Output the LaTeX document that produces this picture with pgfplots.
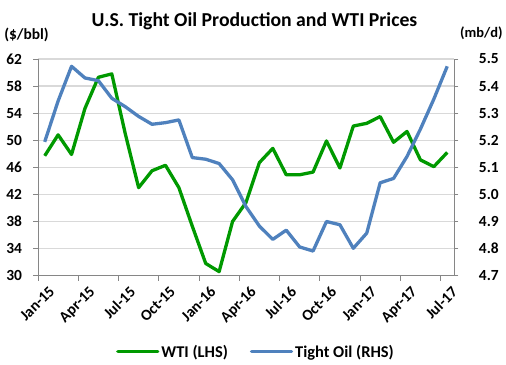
\documentclass[border=0pt]{standalone}
\usepackage{fontspec}
\setmainfont{Carlito}
\usepackage{pgfplots}
\pgfplotsset{compat=1.18}
\definecolor{wti}{RGB}{0,153,0}
\definecolor{tob}{RGB}{79,129,189}
\definecolor{gridc}{RGB}{217,217,217}
\definecolor{axc}{RGB}{134,134,134}
\begin{document}
\begin{tikzpicture}
\pgfplotsset{
  base/.style={
    scale only axis, width=416bp, height=216.7bp,
    at={(0bp,0bp)}, anchor=south west,
    xmin=-0.5, xmax=30.5,
    /pgf/number format/assume math mode=true,
    tick label style={font=\fontsize{15.5}{17}\selectfont\bfseries},
    axis line style={axc, line width=0.9bp},
    tick style={axc, line width=0.9bp},
    tick align=outside,
    major tick length=4.5bp,
    clip=false,
  }
}
\begin{axis}[base,
  axis x line*=bottom, axis y line*=left,
  ymin=30, ymax=62, ytick={30,34,...,62},
  ymajorgrids, grid style={gridc, line width=1.2bp},
  xtick={0,3,...,30},
  xticklabels={Jan-15,Apr-15,Jul-15,Oct-15,Jan-16,Apr-16,Jul-16,Oct-16,Jan-17,Apr-17,Jul-17},
  major x tick style={draw=none},
  minor xtick={-0.5,2.5,...,29.5},
  minor tick length=5bp,
  minor x tick style={axc, line width=0.9bp},
  xticklabel style={rotate=45, anchor=north east, inner sep=1pt, yshift=-5bp, xshift=0bp},
  yticklabel style={xshift=-8bp},
]
\addplot[wti, line width=3.3bp, line join=round] coordinates {
(0,47.7) (1,50.8) (2,47.9) (3,54.7) (4,59.3) (5,59.8) (6,51.0) (7,43.0) (8,45.5) (9,46.3)
(10,43.0) (11,37.3) (12,31.8) (13,30.6) (14,38.0) (15,40.8) (16,46.7) (17,48.8) (18,44.9) (19,44.9)
(20,45.3) (21,49.9) (22,45.9) (23,52.1) (24,52.5) (25,53.5) (26,49.7) (27,51.3) (28,47.1) (29,46.1) (30,48.2)
};
\end{axis}
\begin{axis}[base,
  axis x line=none, axis y line*=right,
  ymin=4.7, ymax=5.5, ytick={4.7,4.8,4.9,5.0,5.1,5.2,5.3,5.4,5.5},
  yticklabel={\pgfmathprintnumber[fixed,fixed zerofill,precision=1]{\tick}},
  yticklabel style={xshift=17bp},
  legend columns=2,
  legend style={draw=none, fill=none, at={(0.524,-0.351)}, anchor=center,
    font=\fontsize{16.5}{18}\selectfont\bfseries,
    /tikz/every even column/.append style={column sep=20bp}},
  legend image code/.code={\draw[#1, line cap=round] (0bp,0bp) -- (40bp,0bp);},
]
\addlegendimage{wti, line width=3.3bp}
\addlegendentry{WTI (LHS)}
\addplot[tob, line width=3.3bp, line join=round] coordinates {
(0,5.194) (1,5.345) (2,5.473) (3,5.430) (4,5.420) (5,5.355) (6,5.324) (7,5.288) (8,5.259) (9,5.265)
(10,5.275) (11,5.136) (12,5.130) (13,5.114) (14,5.054) (15,4.955) (16,4.883) (17,4.834) (18,4.868) (19,4.806)
(20,4.791) (21,4.900) (22,4.888) (23,4.801) (24,4.857) (25,5.043) (26,5.059) (27,5.140) (28,5.241) (29,5.352) (30,5.473)
};
\addlegendentry{Tight Oil (RHS)}
\end{axis}
\node[font=\fontsize{19.8}{23}\selectfont\bfseries] at (216.5bp,254.7bp) {U.S. Tight Oil Production and WTI Prices};
\node[font=\fontsize{15.5}{17}\selectfont\bfseries] at (-11.5bp,240.7bp) {(\$/bbl)};
\node[font=\fontsize{14.5}{16}\selectfont\bfseries] at (443.5bp,242bp) {(mb/d)};
\useasboundingbox (-38bp,-89.3bp) rectangle (468bp,275.7bp);
\end{tikzpicture}
\end{document}
